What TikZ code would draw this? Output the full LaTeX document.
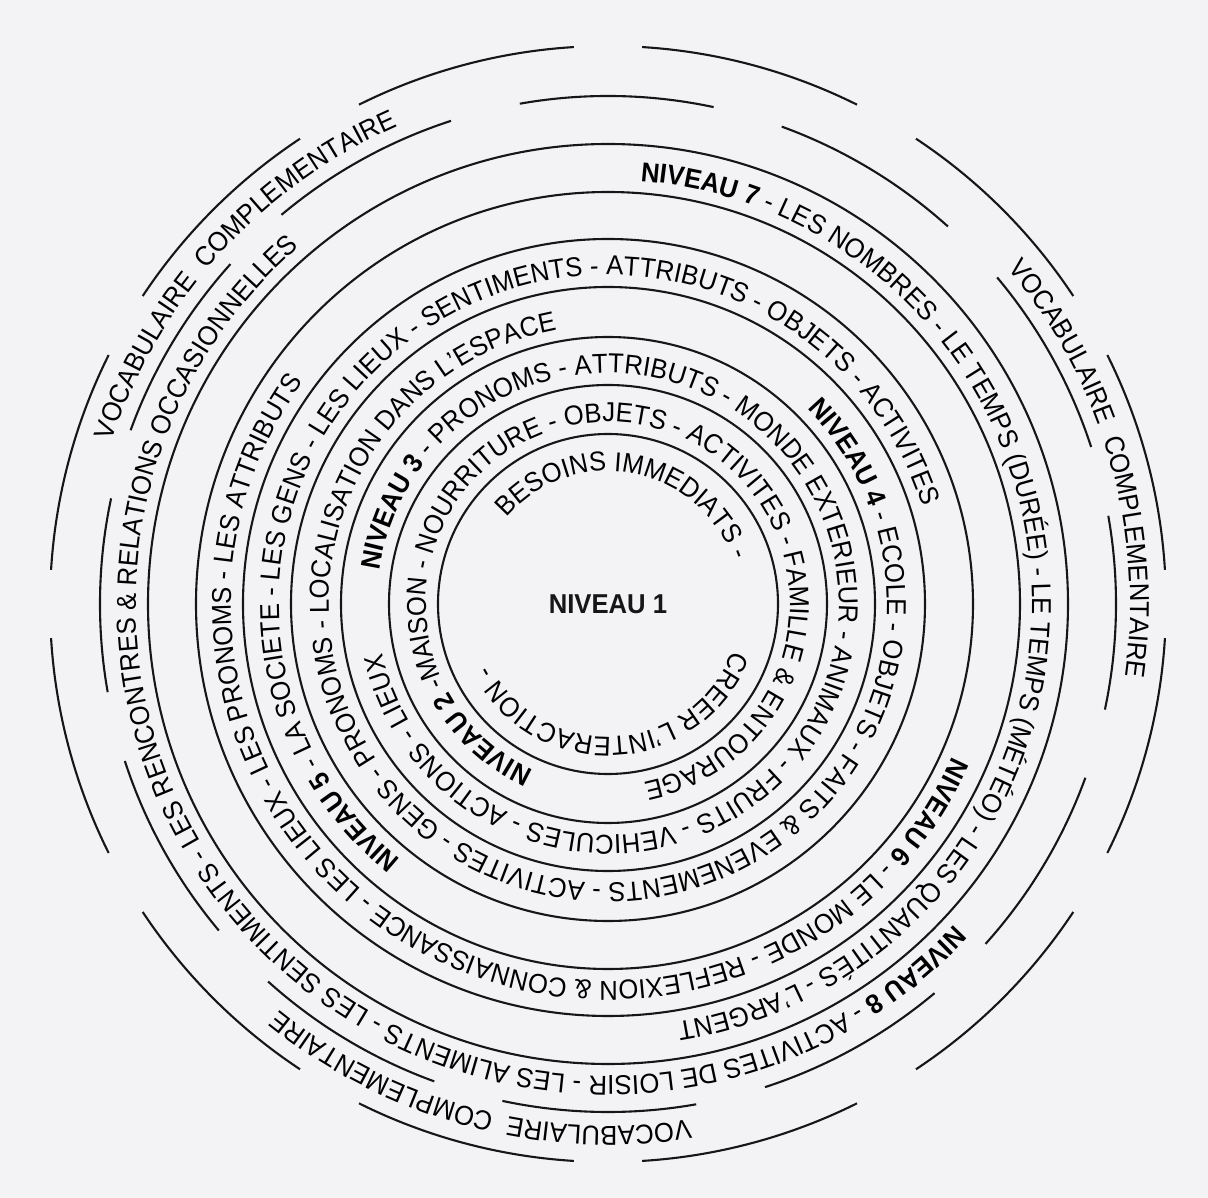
\documentclass[tikz,border=0pt]{standalone}
\usepackage{fontspec}
\setmainfont{Liberation Sans}[FakeStretch=0.94]
\usetikzlibrary{decorations.text}

\definecolor{paper}{RGB}{243,243,245}
\definecolor{ink}{RGB}{22,22,24}
\newcommand\ringfont{\fontsize{27.3pt}{32pt}\selectfont}

\begin{document}
\begin{tikzpicture}[color=ink]

% Set the overall frame of the page
\useasboundingbox (-608pt,-594pt) rectangle (600pt,604pt);
\fill[paper] (-608pt,-594pt) rectangle (600pt,604pt);

% Define styles for rings and the words along them
\tikzstyle{ring} = [draw=ink, line width=2.1pt]
\tikzstyle{ring text} = [decorate, decoration={text along path, text align=center}]

% Closed rings, from the centre outwards
\foreach \r in {170,219,267,317,365,412,460}
    \draw[ring] (0,0) circle[radius=\r pt];

% Broken rings round the outside
\foreach \k in {0,...,11} {
    \draw[ring] (130-30*\k:508pt) arc[start angle=130-30*\k, end angle=108-30*\k, radius=508pt];
    \draw[ring] (176.5-30*\k:558pt) arc[start angle=176.5-30*\k, end angle=153.5-30*\k, radius=558pt];
}

% Level 1 in the middle
\node[font=\ringfont\bfseries] (niveau1) at (0,0) {NIVEAU 1};
\path[ring text, decoration={text={|\ringfont|BESOINS IMMEDIATS -}}]
    (258.5:133pt) arc[start angle=258.5, end angle=-99.5, radius=133pt];
\path[ring text, decoration={text={|\ringfont|CREER L'INTERACTION -}}]
    (92.5:133pt) arc[start angle=92.5, end angle=-265.5, radius=133pt];

% Levels 2 to 8, one ring each
\path[ring text, decoration={text={|\ringfont\bfseries|NIVEAU 2|\ringfont\mdseries| -MAISON - NOURRITURE - OBJETS - ACTIVITES - FAMILLE {\&} ENTOURAGE}}]
    (262.5:182pt) arc[start angle=262.5, end angle=-95.5, radius=182pt];
\path[ring text, decoration={text={|\ringfont\bfseries|NIVEAU 3|\ringfont\mdseries| - PRONOMS - ATTRIBUTS - MONDE EXTERIEUR - ANIMAUX - FRUITS - VEHICULES - ACTIONS - LIEUX}}]
    (181:231pt) arc[start angle=181, end angle=-177, radius=231pt];
\path[ring text, decoration={text={|\ringfont\bfseries|NIVEAU 4|\ringfont\mdseries| - ECOLE - OBJETS - FAITS {\&} EVENEMENTS - ACTIVITES - GENS - PRONOMS - LOCALISATION DANS L'ESPACE}}]
    (71.5:279pt) arc[start angle=71.5, end angle=-286.5, radius=279pt];
\path[ring text, decoration={text={|\ringfont\bfseries|NIVEAU 5|\ringfont\mdseries| - LA SOCIETE - LES GENS - LES LIEUX - SENTIMENTS - ATTRIBUTS - OBJETS - ACTIVITES}}]
    (303:329pt) arc[start angle=303, end angle=-55, radius=329pt];
\path[ring text, decoration={text={|\ringfont\bfseries|NIVEAU 6|\ringfont\mdseries| - LE MONDE - REFLEXION {\&} CONNAISSANCE - LES LIEUX - LES PRONOMS - LES ATTRIBUTS}}]
    (59:377pt) arc[start angle=59, end angle=-299, radius=377pt];
\path[ring text, decoration={text={|\ringfont\bfseries|NIVEAU 7|\ringfont\mdseries| - LES NOMBRES - LE TEMPS (DURÉE) - LE TEMPS (MÉTÉO) - LES QUANTITÉS - L'ARGENT}}]
    (181.5:424pt) arc[start angle=181.5, end angle=-176.5, radius=424pt];
\path[ring text, decoration={text={|\ringfont\bfseries|NIVEAU 8|\ringfont\mdseries| - ACTIVITES DE LOISIR - LES ALIMENTS - LES SENTIMENTS - LES RENCONTRES {\&} RELATIONS OCCASIONNELLES}}]
    (43:472pt) arc[start angle=43, end angle=-315, radius=472pt];

% Extra words, three times round the edge
\path[ring text, decoration={text={|\ringfont|VOCABULAIRE {\ }COMPLEMENTAIRE}}]
    (227.8:522pt) arc[start angle=227.8, end angle=47.8, radius=522pt];
\path[ring text, decoration={text={|\ringfont|VOCABULAIRE {\ }COMPLEMENTAIRE}}]
    (106:522pt) arc[start angle=106, end angle=-74, radius=522pt];
\path[ring text, decoration={text={|\ringfont|VOCABULAIRE {\ }COMPLEMENTAIRE}}]
    (-15:522pt) arc[start angle=-15, end angle=-195, radius=522pt];

\end{tikzpicture}
\end{document}
